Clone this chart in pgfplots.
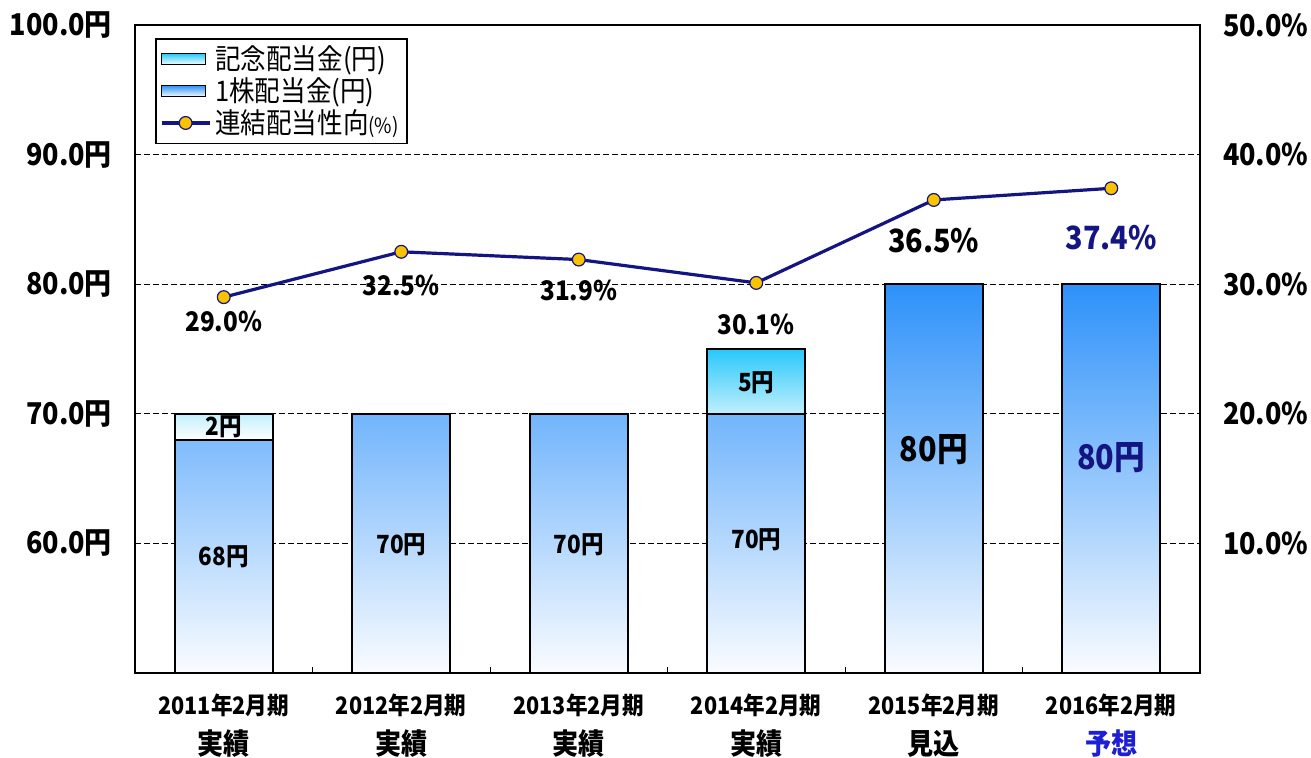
\documentclass[border=0pt]{standalone}
\usepackage{pgfplots}
\pgfplotsset{compat=1.18}
\usepackage{fontspec}
\setmainfont{Noto Sans CJK JP}[FakeStretch=0.9]
\definecolor{barblue}{RGB}{45,145,250}
\definecolor{barmid}{RGB}{145,188,255}
\definecolor{barlight}{RGB}{250,252,255}
\definecolor{kinen}{RGB}{40,200,250}
\definecolor{navy}{RGB}{20,20,130}
\definecolor{gold}{RGB}{250,195,0}
\definecolor{yoso}{RGB}{30,30,210}
\newcommand\fs[1]{\fontsize{#1}{#1}\selectfont\bfseries}
\newcommand\fr[1]{\fontsize{#1}{#1}\selectfont}
\newcommand\xl[2]{{\fs{12}#1}\\{\fs{14.5}#2}}
\pgfplotsset{
  legbox/.style={legend image code/.code={\draw[##1] (0pt,-2.8pt) rectangle (22pt,2.8pt);}},
  legline/.style={legend image code/.code={\draw[mark repeat=2,mark phase=2,##1] plot coordinates {(0pt,0pt) (12pt,0pt) (24pt,0pt)};}},
}
\begin{document}
\begin{tikzpicture}
\begin{axis}[
  scale only axis, width=532.5pt, height=324pt,
  xmin=-0.5, xmax=5.5, ymin=0, ymax=50,
  ybar stacked, bar width=0.55, stacked ignores zero,
  xtick={0,1,2,3,4,5},
  xticklabels={{\xl{2011年2月期}{実績}},{\xl{2012年2月期}{実績}},{\xl{2013年2月期}{実績}},{\xl{2014年2月期}{実績}},{\xl{2015年2月期}{見込}},{\xl{2016年2月期}{\textcolor{yoso}{予想}}}},
  xticklabel style={align=center, font=\fontsize{12}{20}\selectfont\bfseries, yshift=-7pt},
  ytick={10,20,30,40,50},
  yticklabels={60.0円,70.0円,80.0円,90.0円,100.0円},
  yticklabel style={font=\fs{15}, xshift=-8pt},
  ymajorgrids, major grid style={black, line width=0.6pt, dash pattern=on 3pt off 1.5pt},
  major tick length=0pt,
  minor xtick={0.5,1.5,2.5,3.5,4.5},
  minor tick length=3pt,
  tick pos=left,
  axis line style={line width=0.8pt},
  every tick/.style={black, line width=0.4pt},
]
\coordinate (SW) at (rel axis cs:0,0);
\addplot[draw=black, line width=1pt, top color=barblue, middle color=barmid, bottom color=barlight, y filter/.expression={y-50}]
  coordinates {(0,68) (1,70) (2,70) (3,70) (4,80) (5,80)};
\addplot[draw=black, line width=1pt, top color=kinen, bottom color=white]
  coordinates {(0,2) (1,0) (2,0) (3,5) (4,0) (5,0)};
\end{axis}
\begin{axis}[
  scale only axis, width=532.5pt, height=324pt,
  xmin=-0.5, xmax=5.5, ymin=0, ymax=50,
  axis x line=none, axis y line*=right,
  y axis line style={draw=none},
  ytick={10,20,30,40,50},
  yticklabels={10.0\%,20.0\%,30.0\%,40.0\%,50.0\%},
  yticklabel style={font=\fs{15}, xshift=8pt},
  major tick length=0pt,
  legend style={at={(0.019,0.98)}, anchor=north west, draw=black, line width=0.8pt,
    font=\fr{14.2}, row sep=-1.5pt, inner xsep=2pt, inner ysep=1.5pt, cells={anchor=west}},
  legend cell align=left,
]
\addlegendimage{legbox, draw=black, line width=0.7pt, top color=kinen, bottom color=white}
\addlegendentry{記念配当金(円)}
\addlegendimage{legbox, draw=black, line width=0.7pt, top color=barblue, bottom color=barlight}
\addlegendentry{1株配当金(円)}
\addplot[legline, navy, line width=1.6pt, mark=*, mark size=3.2pt, mark options={fill=gold, draw=navy, line width=0.6pt}]
  coordinates {(0,29.0) (1,32.5) (2,31.9) (3,30.1) (4,36.5) (5,37.4)};
\addlegendentry{連結配当性向{\fontsize{10.5}{10.5}\selectfont(\%)}}
% bar value labels (left-axis units minus 50)
\node[font=\fs{12.5}] at (axis cs:0,8.95) {68円};
\node[font=\fs{12.5}] at (axis cs:1,9.9) {70円};
\node[font=\fs{12.5}] at (axis cs:2,9.9) {70円};
\node[font=\fs{12.5}] at (axis cs:3,10.3) {70円};
\node[font=\fs{12.5}] at (axis cs:0,19.0) {2円};
\node[font=\fs{12.5}] at (axis cs:3,22.4) {5円};
\node[font=\fs{17}] at (axis cs:4,17.2) {80円};
\node[font=\fs{17}, text=navy] at (axis cs:5,16.6) {80円};
% payout ratio labels
\node[font=\fs{13.5}] at (axis cs:0,27.1) {29.0\%};
\node[font=\fs{13.5}] at (axis cs:1,29.9) {32.5\%};
\node[font=\fs{13.5}] at (axis cs:2,29.5) {31.9\%};
\node[font=\fs{13.5}] at (axis cs:3,26.9) {30.1\%};
\node[font=\fs{16}] at (axis cs:4,33.4) {36.5\%};
\node[font=\fs{16}, text=navy] at (axis cs:5,33.6) {37.4\%};
\end{axis}
\pgfresetboundingbox
\path (SW) ++(-67.5pt,-42.5pt) rectangle ++(655.5pt,379pt);
\end{tikzpicture}
\end{document}
